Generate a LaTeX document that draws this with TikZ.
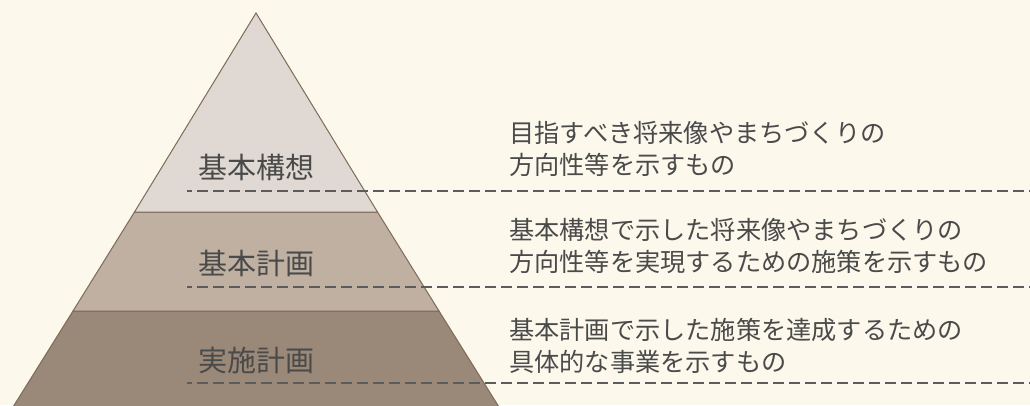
\documentclass[tikz,border=0pt]{standalone}
\usepackage{fontspec}
\setmainfont{Noto Sans CJK JP}
\definecolor{bg}{HTML}{FCF8EC}
\definecolor{band1}{HTML}{E0D9D3}
\definecolor{band2}{HTML}{BFB0A2}
\definecolor{band3}{HTML}{9A8878}
\definecolor{edge}{HTML}{7D6A58}
\definecolor{txt}{HTML}{4A4A4A}
\definecolor{dash}{HTML}{5C5C5C}
\tikzset{
  band/.style={draw=edge, line width=1pt, line join=miter},
  level/.style={text=txt, font=\fontsize{29}{32}\selectfont, inner sep=0pt},
  desc/.style={text=txt, font=\fontsize{25.2}{32}\selectfont, inner sep=0pt, anchor=west, align=left},
  sep/.style={draw=dash, line width=2pt, dash pattern=on 11pt off 5pt, dash phase=6pt},
}
\begin{document}
\begin{tikzpicture}[x=1pt,y=-1pt]
\fill[bg] (0,0) rectangle (1030,405);
\useasboundingbox (0,0) rectangle (1030,405);
% pyramid bands
\coordinate (apex) at (256,13);
\coordinate (l1) at (134.5,212); \coordinate (r1) at (377.5,212);
\coordinate (l2) at (73,311); \coordinate (r2) at (439,311);
\coordinate (l3) at (13,407); \coordinate (r3) at (499,407);
\begin{scope}
\clip (0,0) rectangle (1030,405);
\filldraw[band, fill=band3] (l2) -- (r2) -- (r3) -- (l3) -- cycle;
\filldraw[band, fill=band2] (l1) -- (r1) -- (r2) -- (l2) -- cycle;
\filldraw[band, fill=band1] (apex) -- (r1) -- (l1) -- cycle;
\end{scope}
% level labels
\node[level] (lv1) at (256,167) {基本構想};
\node[level] (lv2) at (256,263) {基本計画};
\node[level] (lv3) at (256,360) {実施計画};
% separators
\coordinate (s1a) at (187,190.5); \coordinate (s1b) at (1030,190.5);
\coordinate (s2a) at (187,287); \coordinate (s2b) at (1030,287);
\coordinate (s3a) at (187,383); \coordinate (s3b) at (1030,383);
\draw[sep] (s1a) -- (s1b);
\draw[sep] (s2a) -- (s2b);
\draw[sep] (s3a) -- (s3b);
% descriptions
\node[desc] (d1) at (509,149) {目指すべき将来像やまちづくりの\\方向性等を示すもの};
\node[desc] (d2) at (509,246) {基本構想で示した将来像やまちづくりの\\方向性等を実現するための施策を示すもの};
\node[desc] (d3) at (509,346) {基本計画で示した施策を達成するための\\具体的な事業を示すもの};
\end{tikzpicture}
\end{document}
